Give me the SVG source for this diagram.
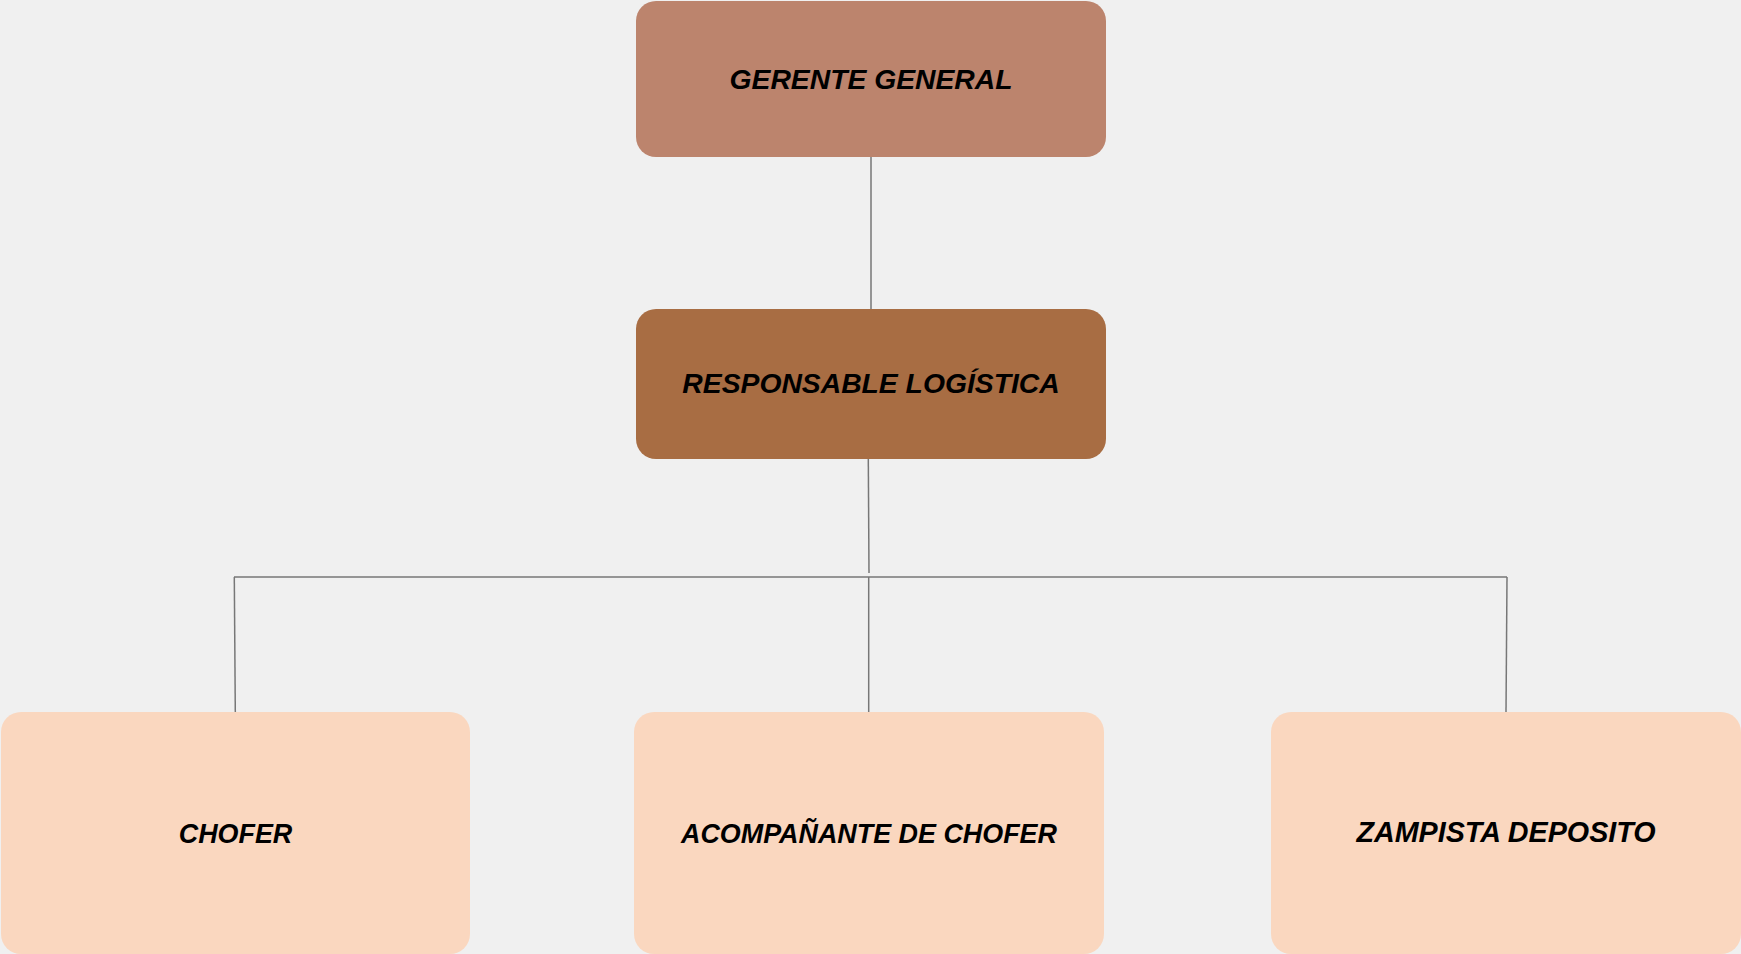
<svg xmlns="http://www.w3.org/2000/svg" width="1741" height="954" viewBox="0 0 1741 954">
  <style>
    .box { stroke: none; }
    .lvl1 { fill: #BC846D; }
    .lvl2 { fill: #A86D43; }
    .lvl3 { fill: #FAD7BF; }
    .label { font-family: "Liberation Sans", Arial, sans-serif; font-weight: bold; font-style: italic; fill: #000; text-anchor: middle; }
    .big { font-size: 28.3px; }
    .small { font-size: 26.9px; }
    .wide { font-size: 28.7px; }
    .link { stroke: #777777; stroke-width: 1.5; fill: none; }
  </style>
  <rect width="1741" height="954" fill="#F0F0F0"/>

  <g id="connectors">
    <line class="link" x1="871" y1="157" x2="871" y2="309"/>
    <line class="link" x1="868.3" y1="459" x2="869" y2="573"/>
    <line class="link" x1="234" y1="577" x2="1507" y2="577"/>
    <line class="link" x1="234.3" y1="577" x2="235.3" y2="712"/>
    <line class="link" x1="868.7" y1="577" x2="868.7" y2="712"/>
    <line class="link" x1="1507" y1="577" x2="1506" y2="712"/>
  </g>

  <g id="gerente-general">
    <rect class="box lvl1" x="636" y="1" width="470" height="156" rx="20" ry="20"/>
    <text class="label big" x="871" y="89">GERENTE GENERAL</text>
  </g>

  <g id="responsable-logistica">
    <rect class="box lvl2" x="636" y="309" width="470" height="150" rx="20" ry="20"/>
    <text class="label big" x="871" y="393">RESPONSABLE LOGÍSTICA</text>
  </g>

  <g id="chofer">
    <rect class="box lvl3" x="1" y="712" width="469" height="242" rx="20" ry="20"/>
    <text class="label small" x="235.5" y="843">CHOFER</text>
  </g>

  <g id="acompanante-de-chofer">
    <rect class="box lvl3" x="634" y="712" width="470" height="242" rx="20" ry="20"/>
    <text class="label small" x="869" y="843">ACOMPAÑANTE DE CHOFER</text>
  </g>

  <g id="zampista-deposito">
    <rect class="box lvl3" x="1271" y="712" width="470" height="242" rx="20" ry="20"/>
    <text class="label wide" x="1506" y="842">ZAMPISTA DEPOSITO</text>
  </g>
</svg>
